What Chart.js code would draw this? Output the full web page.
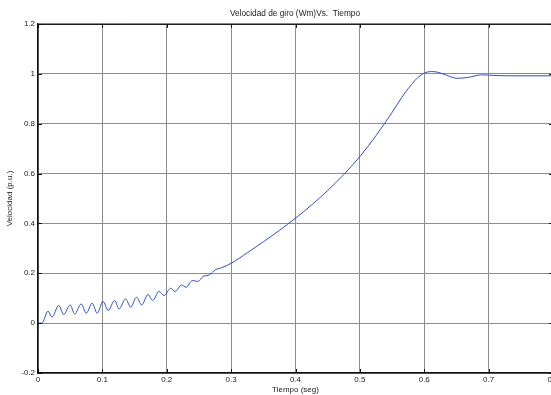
<!DOCTYPE html>
<html lang="es">
  <head>
    <meta charset="UTF-8" />
    <title>Velocidad de giro (Wm) Vs. Tiempo</title>
    <script src="https://cdn.jsdelivr.net/npm/chart.js@4.4.0/dist/chart.umd.min.js"></script>
    <style>
      html,
      body {
        margin: 0;
        padding: 0;
        background: #fff;
        overflow: hidden;
      }
    </style>
  </head>
  <body>
    <!-- el eje llega hasta 0.8, un poco más allá del borde de la ventana -->
    <canvas id="velChart" width="590" height="395"></canvas>

    <script>
      // Tiempo (seg) y velocidad (p.u.)
      const tiempo = [
        0, 0.006, 0.0156, 0.0218, 0.032, 0.04, 0.05, 0.057, 0.067, 0.075,
        0.084, 0.092, 0.101, 0.109, 0.119, 0.126, 0.136, 0.144, 0.153, 0.161,
        0.171, 0.178, 0.188, 0.196, 0.206, 0.213, 0.223, 0.23, 0.24, 0.248,
        0.257, 0.266, 0.276, 0.284, 0.3, 0.325, 0.35, 0.375, 0.4, 0.425, 0.45,
        0.475, 0.5, 0.525, 0.55, 0.565, 0.58, 0.59, 0.6, 0.61, 0.62, 0.635,
        0.651, 0.669, 0.689, 0.713, 0.733, 0.8,
      ];
      const velocidad = [
        0, 0, 0.048, 0.024, 0.071, 0.035, 0.073, 0.037, 0.077, 0.04, 0.08,
        0.04, 0.087, 0.051, 0.091, 0.057, 0.097, 0.064, 0.104, 0.073, 0.115,
        0.091, 0.127, 0.111, 0.14, 0.127, 0.153, 0.144, 0.171, 0.167, 0.188,
        0.193, 0.215, 0.221, 0.24, 0.282, 0.326, 0.372, 0.421, 0.474, 0.532,
        0.596, 0.668, 0.752, 0.845, 0.905, 0.957, 0.985, 1.003, 1.009, 1.007,
        0.994, 0.982, 0.986, 0.996, 0.993, 0.992, 0.992,
      ];

      // Marcas de los ejes
      const xTicks = [0, 0.1, 0.2, 0.3, 0.4, 0.5, 0.6, 0.7, 0.8];
      const yTicks = [-0.2, 0, 0.2, 0.4, 0.6, 0.8, 1, 1.2];

      const fuente = { family: "'Liberation Sans', Arial, sans-serif", size: 8 };

      // Marco superior y pequeñas marcas hacia dentro (estilo MATLAB)
      const marcoPlugin = {
        id: "marco",
        afterDraw(chart) {
          const { ctx, chartArea: a, scales } = chart;
          ctx.save();
          ctx.strokeStyle = "#111";
          ctx.lineWidth = 1;
          ctx.beginPath();
          ctx.moveTo(a.left, a.top + 0.5);
          ctx.lineTo(a.right, a.top + 0.5);
          ctx.moveTo(a.right - 0.5, a.top);
          ctx.lineTo(a.right - 0.5, a.bottom);
          scales.x.ticks.forEach((t) => {
            const px = Math.round(scales.x.getPixelForValue(t.value)) + 0.5;
            ctx.moveTo(px, a.top);
            ctx.lineTo(px, a.top + 4);
            ctx.moveTo(px, a.bottom);
            ctx.lineTo(px, a.bottom - 4);
          });
          scales.y.ticks.forEach((t) => {
            const py = Math.round(scales.y.getPixelForValue(t.value)) + 0.5;
            ctx.moveTo(a.left, py);
            ctx.lineTo(a.left + 4, py);
            ctx.moveTo(a.right, py);
            ctx.lineTo(a.right - 4, py);
          });
          ctx.stroke();
          ctx.restore();
        },
      };

      const ctx = document.getElementById("velChart").getContext("2d");
      new Chart(ctx, {
        type: "line",
        data: {
          datasets: [
            {
              data: tiempo.map((t, i) => ({ x: t, y: velocidad[i] })),
              borderColor: "#3050c0",
              borderWidth: 1,
              pointRadius: 0,
              cubicInterpolationMode: "monotone",
              fill: false,
            },
          ],
        },
        options: {
          responsive: false,
          animation: false,
          devicePixelRatio: 1,
          plugins: {
            legend: { display: false },
            tooltip: { enabled: false },
            title: {
              display: true,
              text: "Velocidad de giro (Wm)Vs.  Tiempo",
              color: "#222",
              font: { ...fuente, size: 8.3, weight: "normal" },
              padding: { top: 9, bottom: 5 },
            },
          },
          scales: {
            x: {
              type: "linear",
              min: 0,
              max: 0.8,
              afterBuildTicks: (s) => {
                s.ticks = xTicks.map((v) => ({ value: v }));
              },
              afterFit: (s) => {
                s.height = 22;
              },
              ticks: {
                color: "#222",
                font: fuente,
                padding: 2,
                maxRotation: 0,
                autoSkip: false,
                callback: (v) => String(v),
              },
              grid: { color: "#8c8c8c", lineWidth: 1, drawTicks: false },
              border: { display: true, color: "#111", width: 1.5 },
              title: {
                display: true,
                text: "Tiempo (seg)",
                color: "#222",
                font: fuente,
                padding: { top: 0, bottom: 0 },
              },
            },
            y: {
              type: "linear",
              min: -0.2,
              max: 1.2,
              afterBuildTicks: (s) => {
                s.ticks = yTicks.map((v) => ({ value: v }));
              },
              afterFit: (s) => {
                s.width = 38;
              },
              ticks: {
                color: "#222",
                font: fuente,
                padding: 3,
                autoSkip: false,
                callback: (v) => String(v),
              },
              grid: { color: "#8c8c8c", lineWidth: 1, drawTicks: false },
              border: { display: true, color: "#111", width: 1.5 },
              title: {
                display: true,
                text: "Velocidad (p.u.)",
                color: "#222",
                font: fuente,
                padding: { top: 5, bottom: 0 },
              },
            },
            // eje vacío a la derecha: deja el margen derecho de la figura
            yDer: {
              type: "linear",
              position: "right",
              min: -0.2,
              max: 1.2,
              afterFit: (s) => {
                s.width = 37;
              },
              ticks: { display: false },
              grid: { display: false, drawTicks: false },
              border: { display: false },
            },
          },
        },
        plugins: [marcoPlugin],
      });
    </script>
  </body>
</html>
